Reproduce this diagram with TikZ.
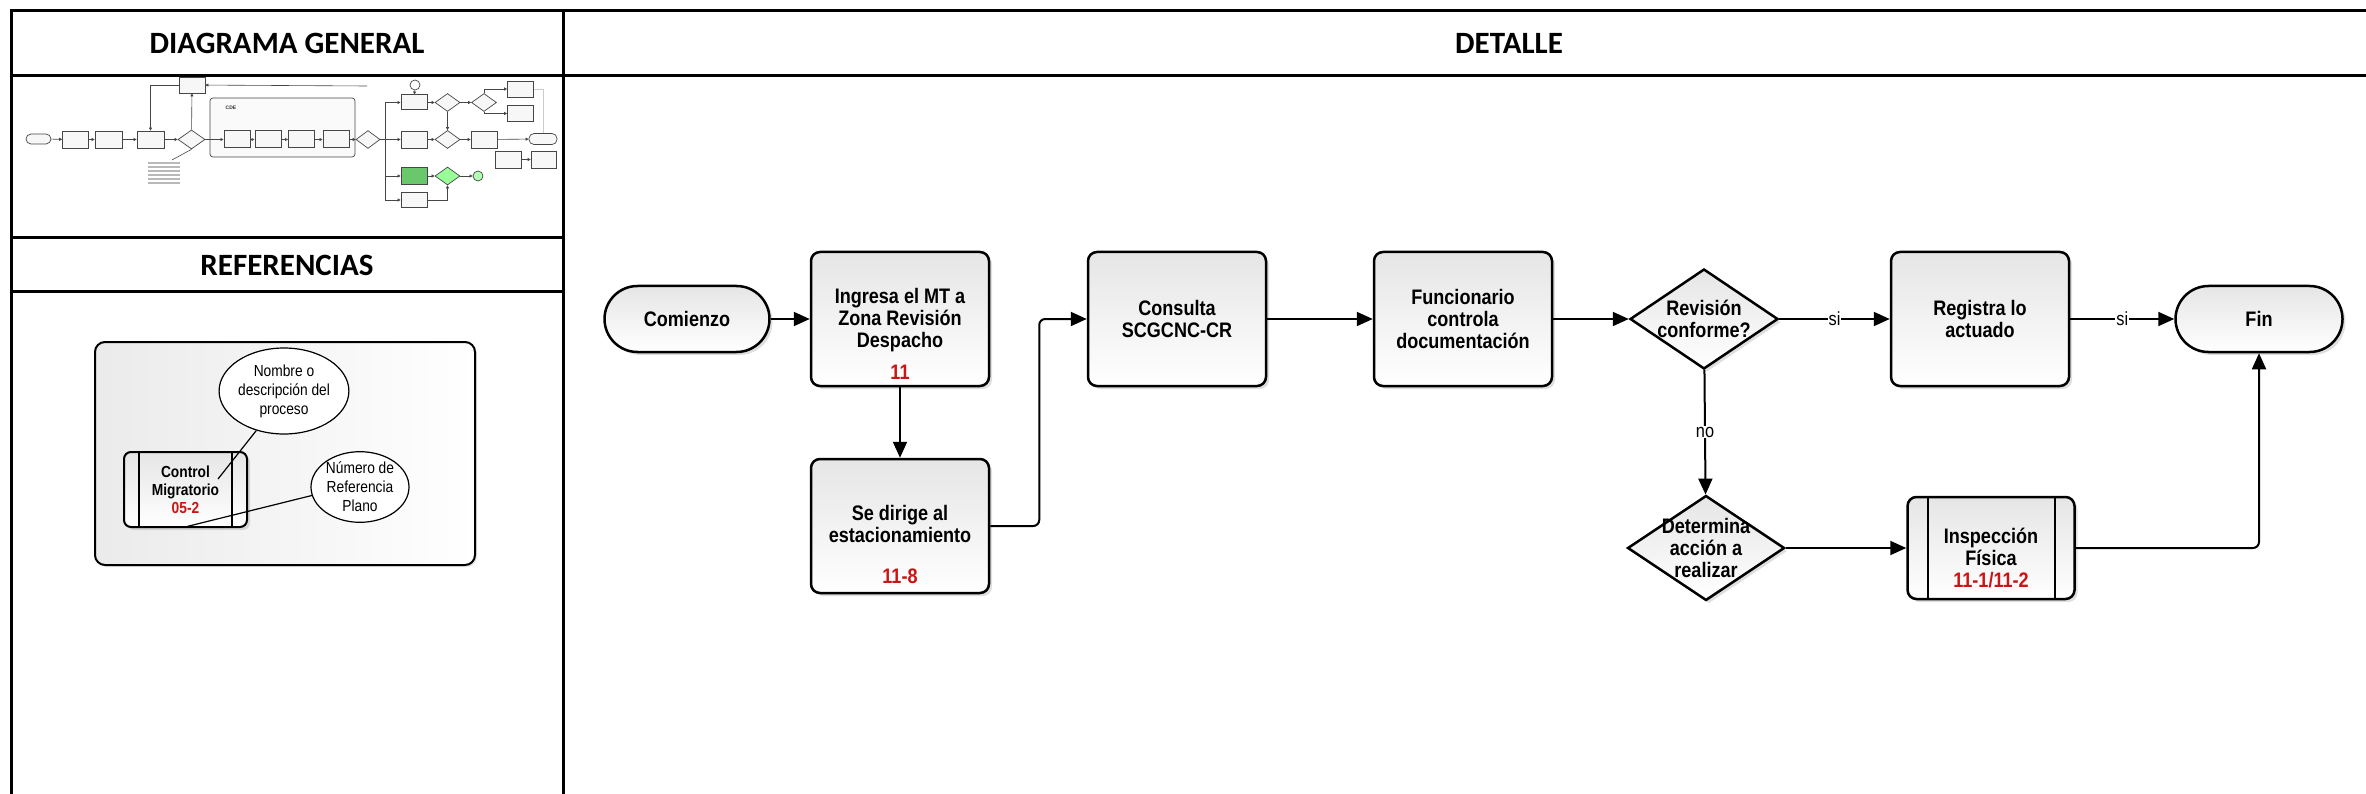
\documentclass[tikz,border=0pt]{standalone}
\usepackage{fontspec}
\setmainfont{Liberation Sans}
\newfontfamily\headfont{Carlito}
\newfontfamily\flowfont[FakeStretch=0.86]{Liberation Sans}
\usetikzlibrary{shapes.geometric, arrows.meta, shadows, positioning}
\definecolor{numred}{RGB}{204,20,20}
% strut that pushes a text block down inside its box
\newcommand\pushdown[1]{\rule{0pt}{#1}}

\tikzset{
  headtext/.style={font=\headfont\bfseries\fontsize{31}{36}\selectfont},
  flowtext/.style={font=\flowfont\bfseries\fontsize{21}{22}\selectfont, align=center},
  boxlook/.style={draw, line width=2.5pt, top color=gray!20, bottom color=white,
    drop shadow={opacity=0.25, shadow xshift=3pt, shadow yshift=-3pt}},
  process/.style={boxlook, rounded corners=9pt, minimum width=178pt, minimum height=134pt,
    inner sep=0pt, flowtext},
  terminal/.style={boxlook, rounded corners=33pt, minimum width=165pt, minimum height=66pt,
    inner sep=0pt, flowtext},
  decision/.style={boxlook, diamond, minimum width=148pt, minimum height=100pt, inner sep=0pt},
  subproc/.style={process, minimum width=167pt, minimum height=102pt,
    path picture={
      \draw[line width=2pt] ([xshift=#1]path picture bounding box.north west)
        -- ([xshift=#1]path picture bounding box.south west);
      \draw[line width=2pt] ([xshift=-#1]path picture bounding box.north east)
        -- ([xshift=-#1]path picture bounding box.south east);}},
  subproc/.default=20pt,
  flow/.style={line width=2pt, -{Triangle[length=16pt, width=14pt]}},
  lbl/.style={font=\flowfont\fontsize{19}{22}\selectfont, fill=white, inner sep=1pt},
  callout/.style={draw, ellipse, line width=1.2pt, fill=white, inner sep=0pt,
    font=\flowfont\fontsize{16}{19}\selectfont, align=center},
  % thumbnail of the general diagram
  tbox/.style={draw=gray!55!black, line width=0.7pt, fill=gray!6, minimum width=26pt,
    minimum height=17pt, inner sep=0pt},
  tdia/.style={tbox, diamond, minimum width=25pt, minimum height=18pt},
  tpill/.style={tbox, rounded corners=5pt, minimum width=25pt, minimum height=10pt},
  tcirc/.style={draw=gray!55!black, line width=0.7pt, circle, minimum size=10pt, inner sep=0pt},
  tflow/.style={line width=0.6pt, draw=gray!55!black, -{Triangle[length=3pt, width=3pt]}},
}

\begin{document}
\begin{tikzpicture}[x=1pt, y=-1pt]
  \useasboundingbox (0,0) rectangle (2366,794);

  % Draw the table
  \draw[line width=3pt] (11,794) -- (11,11) -- (2366,11);
  \draw[line width=3pt] (11,76) -- (2366,76);
  \draw[line width=3pt] (563,11) -- (563,794);
  \draw[line width=3pt] (11,238) -- (563,238);
  \draw[line width=3pt] (11,292) -- (563,292);

  \node[headtext] (hgen) at (287,43) {DIAGRAMA GENERAL};
  \node[headtext] (hdet) at (1509,43) {DETALLE};
  \node[headtext] (href) at (287,265) {REFERENCIAS};

  % General diagram, small
  \node[tpill] (tcom) at (38.5,139) {};
  \node[tbox] (tb1) at (75.5,139.5) {};
  \node[tbox, minimum width=27pt] (tb2) at (108.5,139.5) {};
  \node[tbox, minimum width=27pt] (tb3) at (150.5,139.5) {};
  \node[tdia, minimum width=27pt, minimum height=19pt] (td1) at (191.5,139.5) {};
  \node[tbox, minimum height=16pt] (ttop) at (192,85) {};
  \coordinate (tline) at (367,86);
  \draw[tflow] (tcom) -- (tb1);
  \draw[tflow] (tb1) -- (tb2);
  \draw[tflow] (tb2) -- (tb3);
  \draw[tflow] (tb3) -- (td1);
  \draw[tflow] (td1) -- (ttop);
  \draw[tflow] (tline) -- (ttop);
  \draw[tflow] (ttop.west) -| (tb3.north);
  \coordinate (tnote) at (172,160);
  \draw[line width=0.6pt, gray!55!black] (td1.south) -- (tnote);
  \foreach \y in {163,167,171,175,179,183}
    \draw[gray!55, line width=1.2pt] (148,\y) -- (180,\y);

  \draw[draw=gray!55!black, line width=0.7pt, fill=gray!4, rounded corners=3pt] (210,98) rectangle (355,157);
  \node[font=\bfseries\fontsize{5}{5}\selectfont, text=gray!40!black] (tcde) at (231,108) {CDE};
  \foreach \n/\x in {1/237, 2/268, 3/301.5, 4/336}
    \node[tbox, line width=1pt] (tc\n) at (\x,139.5) {};
  \draw[tflow] (td1) -- (tc1);
  \draw[tflow] (tc1) -- (tc2);
  \draw[tflow] (tc2) -- (tc3);
  \draw[tflow] (tc3) -- (tc4);
  \node[tdia, minimum width=24pt] (td2) at (368,139.5) {};
  \draw[tflow] (tc4) -- (td2);

  \node[tbox, minimum height=15pt, line width=1pt] (tr1) at (414,102.5) {};
  \node[tbox] (tr2) at (414,139.5) {};
  \node[tbox, fill=green!45!gray!80] (tr3) at (414,176) {};
  \node[tbox, minimum height=15pt] (tr4) at (414,200) {};
  \node[tcirc] (tci1) at (415,85) {};
  \coordinate (tbt) at (385,102.5);
  \coordinate (tbb) at (385,200);
  \draw[line width=0.6pt, gray!55!black] (tbt) -- (tbb);
  \draw[line width=0.6pt, gray!55!black] (td2.east) -- (tbt |- td2);
  \foreach \n in {1,2,3,4}
    \draw[tflow] (tbt |- tr\n) -- (tr\n);
  \draw[tflow] (tci1) -- (tr1);

  \node[tdia] (tq1) at (447.5,102.5) {};
  \node[tdia] (tq2) at (447.5,139.5) {};
  \node[tdia, fill=green!40] (tq3) at (447.5,176) {};
  \node[tdia] (tq4) at (484,102.5) {};
  \node[tbox, minimum height=16pt] (tx1) at (520.5,89) {};
  \node[tbox, minimum height=16pt] (tx2) at (520.5,113.5) {};
  \node[tbox] (tm1) at (484,139.5) {};
  \node[tpill, minimum width=28pt, minimum height=11pt] (tfin) at (543,139) {};
  \node[tbox] (tz1) at (508,159.5) {};
  \node[tbox, minimum width=25pt] (tz2) at (543.5,159.5) {};
  \node[tcirc, fill=green!30] (tci2) at (478,176) {};
  \draw[tflow] (tr1) -- (tq1);
  \draw[tflow] (tq1) -- (tq4);
  \draw[tflow] (tq4.north) |- (tx1);
  \draw[tflow] (tq4.south) |- (tx2);
  \draw[tflow] (tr2) -- (tq2);
  \draw[tflow] (tq2) -- (tm1);
  \draw[tflow] (tm1) -- (tfin);
  \draw[tflow] (tr3) -- (tq3);
  \draw[tflow] (tq3) -- (tci2);
  \draw[tflow] (tr4.east) -| (tq3.south);
  \draw[tflow] (tq1.south) -- (tq2.north);
  \draw[tflow] (tz1) -- (tz2);
  \draw[line width=0.6pt, gray!40] (tx1.east) -| (tfin.north);

  % References panel
  \draw[line width=2pt, rounded corners=10pt, left color=gray!16, right color=white,
    drop shadow={opacity=0.2, shadow xshift=2pt, shadow yshift=-2pt}] (95,342) rectangle (475,565);
  \node[subproc=15pt, minimum width=123pt, minimum height=75pt, rounded corners=7pt,
    line width=2pt, font=\flowfont\bfseries\fontsize{16}{18}\selectfont] (cm) at (185.5,489.5)
    {Control\\Migratorio\\\textcolor{numred}{05-2}};
  \node[callout, minimum width=128pt, minimum height=86pt] (e1) at (284,391)
    {Nombre o\\descripción del\\proceso};
  \node[callout, minimum width=98pt, minimum height=70pt] (e2) at (360,487)
    {Número de\\Referencia\\Plano};
  \coordinate (p1) at (218,479);
  \coordinate (p2) at (185,527);
  \draw[line width=1.2pt] (e1.235) -- (p1);
  \draw[line width=1.2pt] (e2.190) -- (p2);

  % Detail flow
  \node[terminal] (com) at (687,319) {Comienzo};
  \node[process] (ing) at (900,319) {\pushdown{44pt}Ingresa el MT a\\Zona Revisión\\Despacho\\[10pt]\textcolor{numred}{11}};
  \node[process] (sed) at (900,526) {\pushdown{52pt}Se dirige al\\estacionamiento\\[19pt]\textcolor{numred}{11-8}};
  \node[process] (con) at (1177,319) {Consulta\\SCGCNC-CR};
  \node[process] (fun) at (1463,319) {Funcionario\\controla\\documentación};
  \node[decision, label={[flowtext]center:Revisión\\conforme?}] (rev) at (1704,319) {};
  \node[process] (reg) at (1980,319) {Registra lo\\actuado};
  \node[terminal, minimum width=167pt] (fin) at (2259,319) {Fin};
  \node[decision, minimum width=157pt, minimum height=105pt,
    label={[flowtext]center:Determina\\acción a\\realizar}] (det) at (1706,548) {};
  \node[subproc] (ins) at (1991,548) {\pushdown{35pt}Inspección\\Física\\\textcolor{numred}{11-1/11-2}};

  \draw[flow] (com) -- (ing);
  \draw[flow] (ing) -- (sed);
  \draw[flow, rounded corners=6pt] (sed.east) -- ++(49,0) |- (con.west);
  \draw[flow] (con) -- (fun);
  \draw[flow] (fun) -- (rev);
  \draw[flow] (rev) -- node[lbl] {si} (reg);
  \draw[flow] (reg) -- node[lbl] {si} (fin);
  \draw[flow] (rev) -- node[lbl] {no} (det);
  \draw[flow] (det) -- (ins);
  \draw[flow, rounded corners=6pt] (ins.east) -| (fin.south);
\end{tikzpicture}
\end{document}
